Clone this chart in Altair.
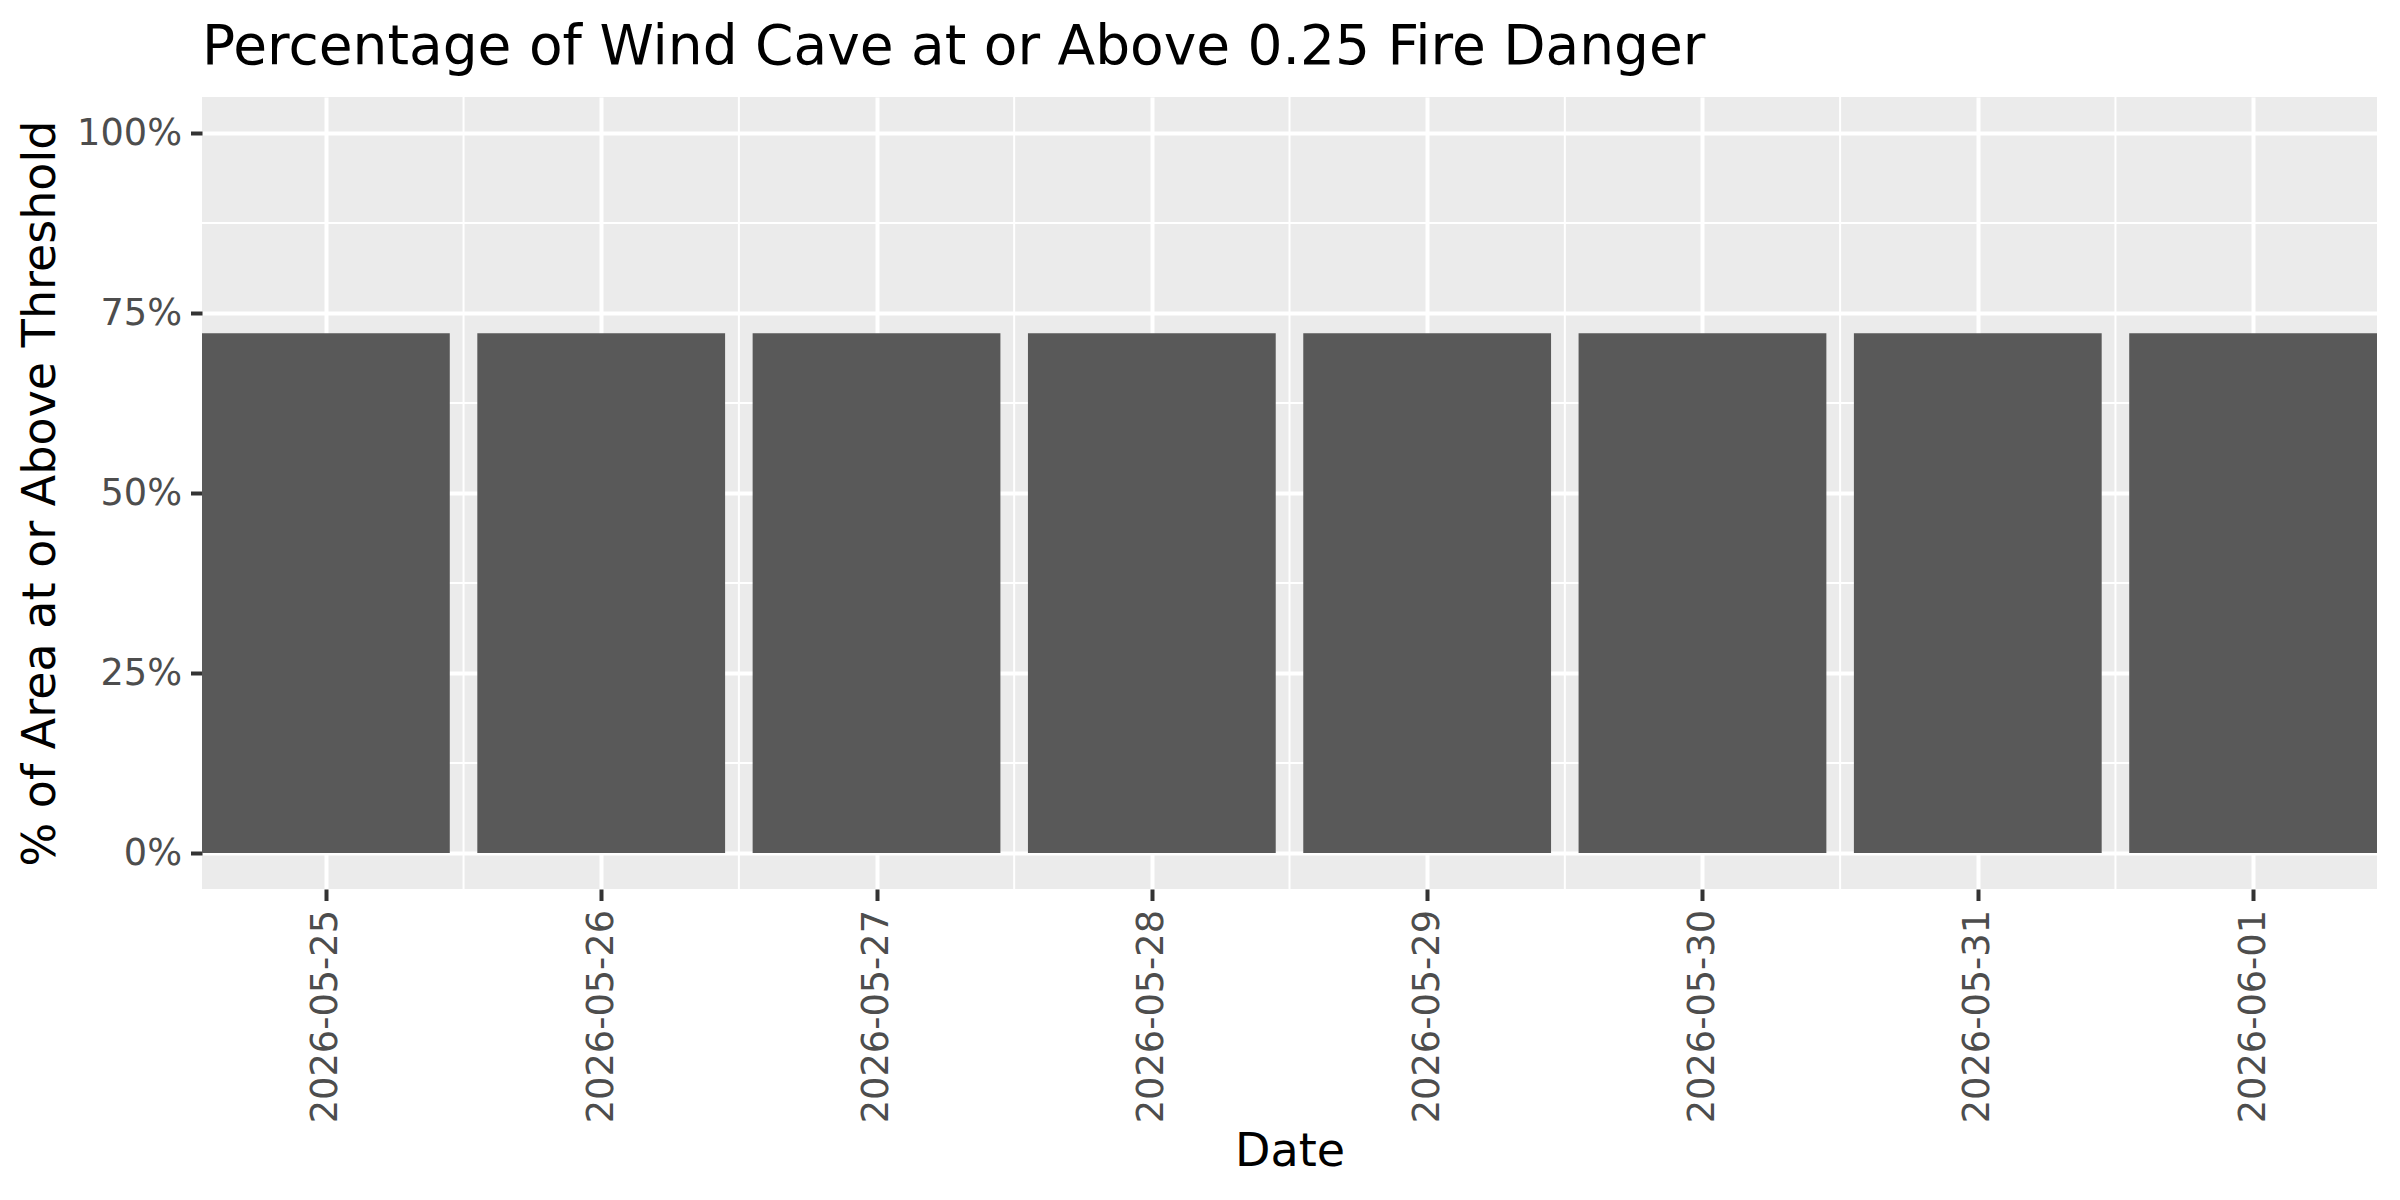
import altair as alt
import pandas as pd

dates = ["2026-05-25", "2026-05-26", "2026-05-27", "2026-05-28",
         "2026-05-29", "2026-05-30", "2026-05-31", "2026-06-01"]
pct_above = [0.722, 0.722, 0.722, 0.722, 0.722, 0.722, 0.722, 0.722]
y_major = [0, 0.25, 0.5, 0.75, 1.0]
y_minor = [0.125, 0.375, 0.625, 0.875]

df = pd.DataFrame({"date": dates, "pct": pct_above})
minor_df = pd.DataFrame({"yv": y_minor})

DAY = 86400000
base = alt.Chart(df).transform_calculate(
    t="toNumber(utcParse(datum.date, '%Y-%m-%d'))"
)

xscale = alt.Scale(type="utc", nice=False)
yscale = alt.Scale(domain=[-0.05, 1.05], nice=False, zero=False)

xaxis = alt.Axis(title="Date",
                 labelExpr="utcFormat(datum.value, '%Y-%m-%d')",
                 tickCount={"interval": "day", "step": 1},
                 labelAngle=-90, labelPadding=9, labelFlush=False,
                 labelOverlap=False, labelLimit=0, titlePadding=40)
yaxis = alt.Axis(title="% of Area at or Above Threshold",
                 values=y_major, format=".0%", labelPadding=9,
                 titlePadding=12)

hminor = alt.Chart(minor_df).mark_rule(color="white", strokeWidth=2).encode(
    y=alt.Y("yv:Q", scale=yscale, axis=yaxis)
)

vminor = base.transform_joinaggregate(maxT="max(t)").transform_filter(
    "datum.t < datum.maxT"
).transform_calculate(
    mid=f"datum.t + {DAY}/2"
).mark_rule(color="white", strokeWidth=2).encode(
    x=alt.X("mid:T", scale=xscale, axis=xaxis)
)

bars = base.transform_calculate(
    start=f"datum.t - 0.45*{DAY}",
    end=f"datum.t + 0.45*{DAY}",
).mark_bar(color="#595959").encode(
    x=alt.X("start:T", scale=xscale, axis=xaxis),
    x2="end:T",
    y=alt.Y("pct:Q", scale=yscale, axis=yaxis),
    y2=alt.datum(0),
)

chart = alt.layer(hminor, vminor, bars).properties(
    width=2175, height=792,
    title=alt.Title("Percentage of Wind Cave at or Above 0.25 Fire Danger",
                    anchor="start", frame="group", fontSize=55,
                    fontWeight="normal", color="black",
                    offset=20, font="DejaVu Sans"),
    autosize=alt.AutoSizeParams(type="none"),
    padding={"left": 194, "top": 89, "right": 15, "bottom": 303},
).configure(
    font="DejaVu Sans",
).configure_view(
    fill="#EBEBEB", stroke=None,
).configure_axis(
    domain=False, grid=True, gridColor="white", gridWidth=4,
    tickColor="#333333", tickWidth=4, tickSize=11.5,
    labelColor="#4D4D4D", labelFontSize=36.7, labelFont="DejaVu Sans",
    titleColor="black", titleFontSize=46, titleFontWeight="normal",
    titleFont="DejaVu Sans",
)

chart.save("out.html", embed_options={"renderer": "svg", "actions": False})
